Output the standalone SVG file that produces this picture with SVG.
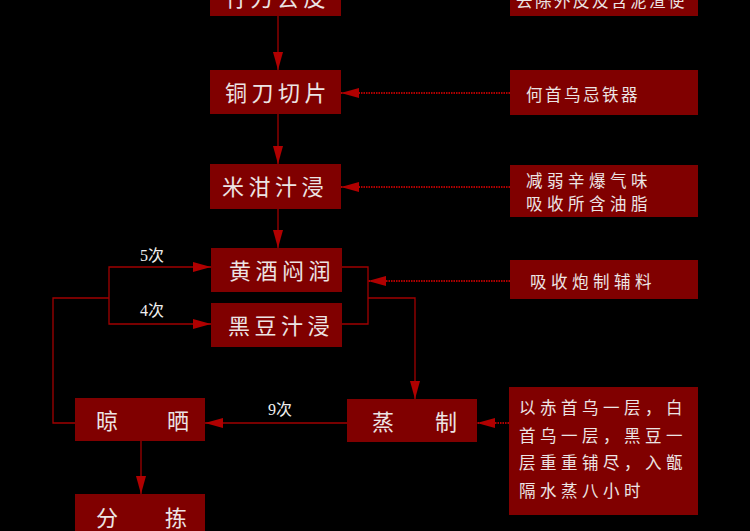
<svg xmlns="http://www.w3.org/2000/svg" width="750" height="531" viewBox="0 0 750 531">
<defs>
<style>
.box{fill:#800000}
.t{font-family:"Noto Sans CJK SC","Noto Sans",sans-serif;fill:#ece4e4}
.big{font-size:22px;letter-spacing:4.5px}
.sm{font-size:16.5px;letter-spacing:4.5px}
.lbl{font-family:"Liberation Serif","Noto Sans CJK SC",serif;font-size:16px;fill:#f0f0f0}
.ln{fill:none;stroke:#a00000;stroke-width:1.3}
.dot{fill:none;stroke:#b00000;stroke-width:2;stroke-dasharray:1.5 1}
</style>
<marker id="ah" viewBox="0 0 18 10" refX="18" refY="5" markerWidth="18" markerHeight="10" markerUnits="userSpaceOnUse" orient="auto">
<path d="M0,0 L18,5 L0,10 Z" fill="#b00000"/>
</marker>
</defs>
<rect width="750" height="531" fill="#000"/>
<g id="connectors">
<line class="ln" x1="278" y1="16" x2="278" y2="70" marker-end="url(#ah)"/>
<line class="ln" x1="278" y1="114" x2="278" y2="164" marker-end="url(#ah)"/>
<line class="ln" x1="278" y1="209" x2="278" y2="248" marker-end="url(#ah)"/>
<line class="dot" x1="510" y1="93" x2="341" y2="93" marker-end="url(#ah)"/>
<line class="dot" x1="510" y1="187" x2="341" y2="187" marker-end="url(#ah)"/>
<line class="dot" x1="510" y1="281" x2="368" y2="281" marker-end="url(#ah)"/>
<polyline class="ln" points="342,267 368,267 368,324 342,324"/>
<polyline class="ln" points="368,298 415,298 415,399" marker-end="url(#ah)"/>
<polyline class="ln" points="109,298 109,267 211,267" marker-end="url(#ah)"/>
<polyline class="ln" points="109,298 109,324 211,324" marker-end="url(#ah)"/>
<polyline class="ln" points="109,298 53,298 53,423 75,423"/>
<line class="ln" x1="347" y1="423" x2="205" y2="423" marker-end="url(#ah)"/>
<line class="dot" x1="509" y1="423" x2="477" y2="423" marker-end="url(#ah)"/>
<line class="ln" x1="141" y1="441" x2="141" y2="494" marker-end="url(#ah)"/>
<text class="lbl" x="140" y="261">5次</text>
<text class="lbl" x="140" y="316">4次</text>
<text class="lbl" x="268" y="415">9次</text>
</g>
<g id="n1"><rect class="box" x="210" y="-30" width="131" height="46"/><text class="t big" x="224" y="6">竹刀去皮</text></g>
<g id="r1"><rect class="box" x="510" y="-30" width="188" height="46"/><text class="t sm" x="516" y="7" style="letter-spacing:2.5px">去除外皮及含泥渣使</text></g>
<g id="n2"><rect class="box" x="210" y="70" width="131" height="44"/><text class="t big" x="225" y="101">铜刀切片</text></g>
<g id="r2"><rect class="box" x="510" y="70" width="188" height="45"/><text class="t sm" x="526" y="101" style="letter-spacing:2.5px">何首乌忌铁器</text></g>
<g id="n3"><rect class="box" x="210" y="164" width="131" height="45"/><text class="t big" x="222" y="195">米泔汁浸</text></g>
<g id="r3"><rect class="box" x="510" y="165" width="188" height="52"/><text class="t sm" x="526" y="187">减弱辛爆气味</text><text class="t sm" x="526" y="210">吸收所含油脂</text></g>
<g id="n4"><rect class="box" x="211" y="248" width="131" height="44"/><text class="t big" x="229" y="279">黄酒闷润</text></g>
<g id="n5"><rect class="box" x="211" y="303" width="131" height="44"/><text class="t big" x="228" y="334">黑豆汁浸</text></g>
<g id="r4"><rect class="box" x="510" y="260" width="188" height="39"/><text class="t sm" x="530" y="288">吸收炮制辅料</text></g>
<g id="n6"><rect class="box" x="75" y="398" width="130" height="43"/><text class="t big" x="96" y="429">晾</text><text class="t big" x="167" y="429">晒</text></g>
<g id="n7"><rect class="box" x="347" y="399" width="130" height="43"/><text class="t big" x="372" y="430">蒸</text><text class="t big" x="435" y="430">制</text></g>
<g id="r5"><rect class="box" x="509" y="387" width="189" height="128"/>
<text class="t sm" x="519" y="414">以赤首乌一层，白</text>
<text class="t sm" x="519" y="442">首乌一层，黑豆一</text>
<text class="t sm" x="519" y="469">层重重铺尽，入甑</text>
<text class="t sm" x="519" y="497">隔水蒸八小时</text></g>
<g id="n8"><rect class="box" x="75" y="494" width="130" height="50"/><text class="t big" x="96" y="526">分</text><text class="t big" x="165" y="526">拣</text></g>
</svg>
